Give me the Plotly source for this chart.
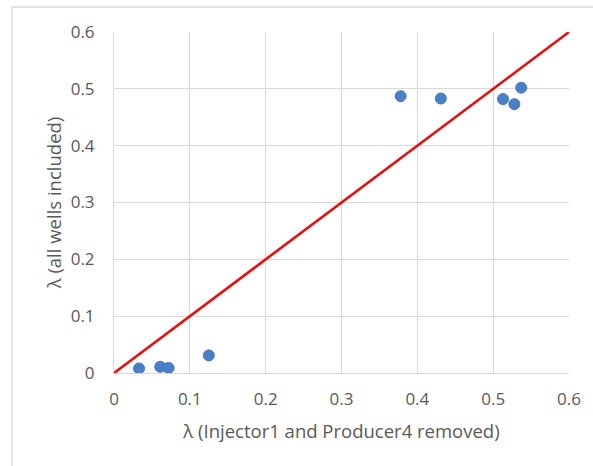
import plotly.graph_objects as go

# Lambda estimates: reduced well set (x) vs. full well set (y)
lambda_removed = [0.033, 0.061, 0.072, 0.125, 0.378, 0.431, 0.513, 0.528, 0.537]
lambda_all = [0.008, 0.011, 0.009, 0.031, 0.487, 0.483, 0.482, 0.473, 0.502]

# 1:1 reference line
ref_x = [0.0, 0.6]
ref_y = [0.0, 0.6]

tick_vals = [0, 0.1, 0.2, 0.3, 0.4, 0.5, 0.6]
tick_text = ["0", "0.1", "0.2", "0.3", "0.4", "0.5", "0.6"]

W, H = 593, 466
ml, mr, mt, mb = 114, 24, 32, 93
pw = W - ml - mr
ph = H - mt - mb

font_family = "Open Sans, Noto Sans, sans-serif"
grey = "#595959"

fig = go.Figure()
fig.add_trace(go.Scatter(
    x=ref_x, y=ref_y, mode="lines",
    line=dict(color="#ff0000", width=2.5),
    hoverinfo="skip", showlegend=False,
))
fig.add_trace(go.Scatter(
    x=lambda_removed, y=lambda_all, mode="markers",
    marker=dict(color="#4a7fc9", size=11, line=dict(color="#4472c4", width=1)),
    showlegend=False,
))

# Outer chart frame (left and top edges)
fx0 = (12 - ml) / pw
fy1 = 1 + (mt - 7) / ph
fy0 = -(mb) / ph
fig.add_shape(type="line", xref="paper", yref="paper",
              x0=fx0, x1=fx0, y0=fy0, y1=fy1,
              line=dict(color="#d9d9d9", width=1.5))
fig.add_shape(type="line", xref="paper", yref="paper",
              x0=fx0, x1=1 + mr / pw, y0=fy1, y1=fy1,
              line=dict(color="#d9d9d9", width=1.5))

fig.update_layout(
    width=W, height=H,
    margin=dict(l=ml, r=mr, t=mt, b=mb),
    paper_bgcolor="white", plot_bgcolor="white",
    font=dict(family=font_family, color=grey, size=17),
    xaxis=dict(
        range=[0, 0.6], tickvals=tick_vals, ticktext=tick_text,
        showgrid=True, gridcolor="#d9d9d9", gridwidth=1,
        zeroline=False, showline=True, linecolor="#d9d9d9",
        mirror=False, ticks="", ticklabelstandoff=11,
        title=dict(text="λ (Injector1 and Producer4 removed)",
                   font=dict(size=18.5, color=grey), standoff=15),
    ),
    yaxis=dict(
        range=[0, 0.6], tickvals=tick_vals, ticktext=tick_text,
        showgrid=True, gridcolor="#d9d9d9", gridwidth=1,
        zeroline=False, showline=True, linecolor="#d9d9d9",
        ticks="", ticklabelstandoff=15,
        title=dict(text="λ (all wells included)",
                   font=dict(size=18.5, color=grey), standoff=4),
    ),
)

fig.write_html("out.html")
